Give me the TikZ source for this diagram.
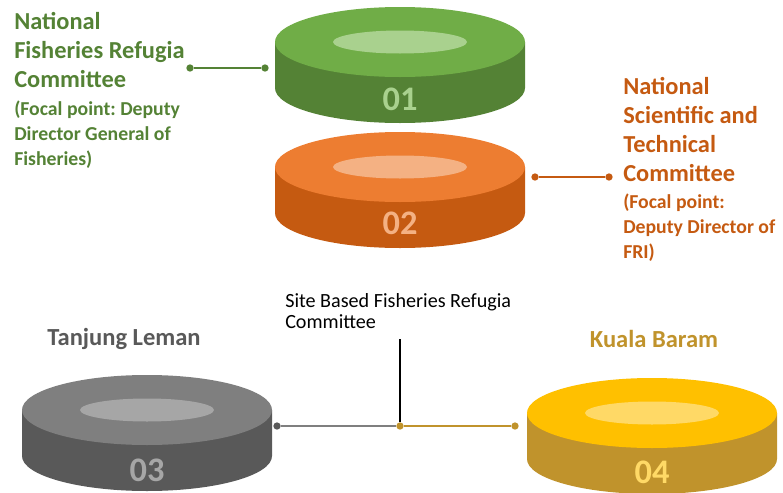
\documentclass[tikz,border=0pt]{standalone}
\usepackage{fontspec}
\setmainfont{Carlito}
\usetikzlibrary{positioning}
\frenchspacing

\definecolor{grtop}{HTML}{70AD47}
\definecolor{grside}{HTML}{548235}
\definecolor{grin}{HTML}{A9D18E}
\definecolor{ortop}{HTML}{ED7D31}
\definecolor{orside}{HTML}{C55A11}
\definecolor{orin}{HTML}{F4B183}
\definecolor{gytop}{HTML}{7F7F7F}
\definecolor{gyside}{HTML}{595959}
\definecolor{gyin}{HTML}{A6A6A6}
\definecolor{yltop}{HTML}{FFC000}
\definecolor{ylside}{HTML}{C0932C}
\definecolor{ylin}{HTML}{FFD966}

\tikzset{
  dot/.style={circle, fill=#1, inner sep=0pt, minimum size=5.5pt},
  title/.style={anchor=north west, align=left, inner sep=0pt, font=\bfseries\fontsize{18.3}{21.75}\selectfont},
  focal/.style={anchor=north west, align=left, inner sep=0pt, font=\bfseries\fontsize{14.8}{18.75}\selectfont},
  place/.style={anchor=base, inner sep=0pt, font=\bfseries\fontsize{18.4}{21}\selectfont},
  number/.style={inner sep=0pt, font=\bfseries\fontsize{25.8}{30}\selectfont},
}

% name, x, y, colour, label, label y
\newcommand{\drawcoin}[6]{%
  \fill[#4side] (#2-125,-#3) -- ++(0,-46) arc[start angle=180, end angle=360, x radius=125, y radius=35] -- ++(0,46) -- cycle;
  \fill[#4top] (#2,-#3) ellipse [x radius=125, y radius=35];
  \fill[#4in] (#2,-#3) ellipse [x radius=67, y radius=11.5];
  \node[number, text=#4in] (#1) at (#2,-#6) {#5};
}

\begin{document}
\begin{tikzpicture}[x=0.75pt, y=0.75pt]
  \useasboundingbox (0,0) rectangle (783,-493);

  \drawcoin{c1}{400}{42}{gr}{01}{99}
  \drawcoin{c2}{400}{167}{or}{02}{223}
  \drawcoin{c3}{147}{410}{gy}{03}{470}
  \drawcoin{c4}{652}{413}{yl}{04}{472}

  \node[title, text=grside] (nfrc) at (14,-12) {National\\Fisheries Refugia\\Committee};
  \node[focal, text=grside] (nfrcfp) at (14,-101) {(Focal point: Deputy\\Director General of\\Fisheries)};
  \node[title, text=orside] (nstc) at (623,-77) {National\\Scientific and\\Technical\\Committee};
  \node[focal, text=orside] (nstcfp) at (623,-194) {(Focal point:\\Deputy Director of\\FRI)};
  \node[anchor=north west, align=left, inner sep=0pt, font=\fontsize{15.1}{15.75}\selectfont] (sbfrc) at (285,-293.5) {Site Based Fisheries Refugia\\Committee};
  \node[place, text=gyside] (tl) at (124,-345) {Tanjung Leman};
  \node[place, text=ylside] (kb) at (654,-347) {Kuala Baram};

  \node[dot=grside] (g1) at (190,-68) {};
  \node[dot=grside] (g2) at (265,-68) {};
  \node[dot=orside] (o1) at (535,-177) {};
  \node[dot=orside] (o2) at (609,-177) {};
  \node[dot=gyside] (b1) at (277,-426) {};
  \node[dot=ylside] (b2) at (400,-426) {};
  \node[dot=ylside] (b3) at (515,-426) {};
  \coordinate (s1) at (400,-339);

  \draw[grside, line width=0.8pt] (g1) -- (g2);
  \draw[orside, line width=0.8pt] (o1) -- (o2);
  \draw[gytop, line width=0.8pt] (b1) -- (b2);
  \draw[ylside, line width=0.8pt] (b2) -- (b3);
  \draw[black, line width=1pt] (s1) -- (b2);
\end{tikzpicture}
\end{document}
